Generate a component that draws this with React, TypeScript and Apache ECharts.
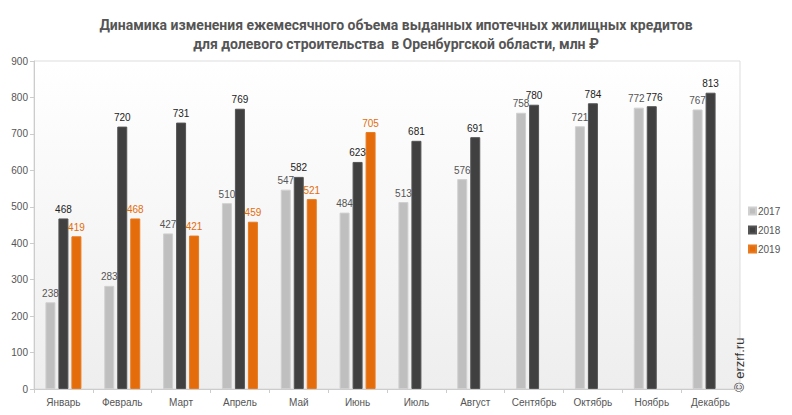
import React, { useEffect, useRef } from "react";
import * as echarts from "echarts";

const months = ["Январь", "Февраль", "Март", "Апрель", "Май", "Июнь", "Июль", "Август", "Сентябрь", "Октябрь", "Ноябрь", "Декабрь"];
const v2017 = [238, 283, 427, 510, 547, 484, 513, 576, 758, 721, 772, 767];
const v2018 = [468, 720, 731, 769, 582, 623, 681, 691, 780, 784, 776, 813];
const v2019: (number | null)[] = [419, 468, 421, 459, 521, 705, null, null, null, null, null, null];
const seriesNames = ["2017", "2018", "2019"];
const colors = ["#bfbfbf", "#404040", "#e46c0a"];
const labelColors = ["#555555", "#222222", "#e46c0a"];

export default function App() {
  const ref = useRef<HTMLDivElement>(null);
  useEffect(() => {
    const chart = echarts.init(ref.current!, null, { renderer: "svg" });
    const data = [v2017, v2018, v2019];
    // nudge apart labels of neighbouring bars with nearly equal heights
    const close = (k: number) => Math.abs(v2017[k] - v2018[k]) < 10;
    const items = (i: number) =>
      data[i].map((v, k) => {
        if (i === 0 && close(k)) return { value: v, label: { offset: [-2.5, 0] } };
        if (i === 1 && close(k)) return { value: v, label: { offset: [2.5, 0] } };
        return v;
      });
    chart.setOption({
      animation: false,
      title: {
        text: "Динамика изменения ежемесячного объема выданных ипотечных жилищных кредитов\nдля долевого строительства  в Оренбургской области, млн ₽",
        left: "center",
        top: 10,
        textStyle: { fontFamily: "Roboto", fontSize: 14, fontWeight: "bold", color: "#555555", lineHeight: 19 },
      },
      legend: {
        orient: "vertical",
        left: 748,
        top: 205,
        padding: 0,
        itemWidth: 7,
        itemHeight: 7,
        itemGap: 7,
        icon: "rect",
        textStyle: { fontFamily: "Liberation Sans", fontSize: 10, lineHeight: 12, color: "#555555", padding: [0, 0, 0, -3] },
        data: seriesNames,
      },
      grid: {
        left: 34,
        right: 52,
        top: 61,
        bottom: 26,
        show: true,
        borderColor: "#dddddd",
        borderWidth: 1,
        backgroundColor: new echarts.graphic.LinearGradient(0, 0, 0, 1, [
          { offset: 0, color: "#ffffff" },
          { offset: 1, color: "#eeeeee" },
        ]),
      },
      xAxis: {
        type: "category",
        data: months,
        axisLine: { lineStyle: { color: "#cccccc" } },
        axisTick: { show: true, length: 4, lineStyle: { color: "#cccccc" } },
        axisLabel: { fontFamily: "Liberation Sans", fontSize: 10, color: "#555555", margin: 8 },
      },
      yAxis: {
        type: "value",
        min: 0,
        max: 900,
        interval: 100,
        axisLine: { show: true, lineStyle: { color: "#cccccc" } },
        axisTick: { show: true, length: 4, lineStyle: { color: "#cccccc" } },
        splitLine: { show: false },
        axisLabel: { fontFamily: "Liberation Sans", fontSize: 10, color: "#555555", margin: 6 },
      },
      graphic: [
        {
          type: "text",
          x: 733,
          y: 392,
          rotation: Math.PI / 2,
          style: { text: "© erzrf.ru", font: "13px 'Liberation Sans'", fill: "#333333" },
        },
      ],
      series: seriesNames.map((name, i) => ({
        name,
        type: "bar",
        data: items(i),
        barWidth: 10,
        barGap: "30%",
        itemStyle: { color: colors[i], borderColor: i === 0 ? "#d0d0d0" : i === 1 ? "#555555" : "#e87a20", borderWidth: 1 },
        label: {
          show: true,
          position: "top",
          distance: 4,
          fontFamily: "Liberation Sans",
          fontSize: 10,
          color: labelColors[i],
        },
      })),
    });
    return () => chart.dispose();
  }, []);
  return <div ref={ref} style={{ width: 792, height: 415, position: "absolute", left: 0, top: 0 }} />;
}
